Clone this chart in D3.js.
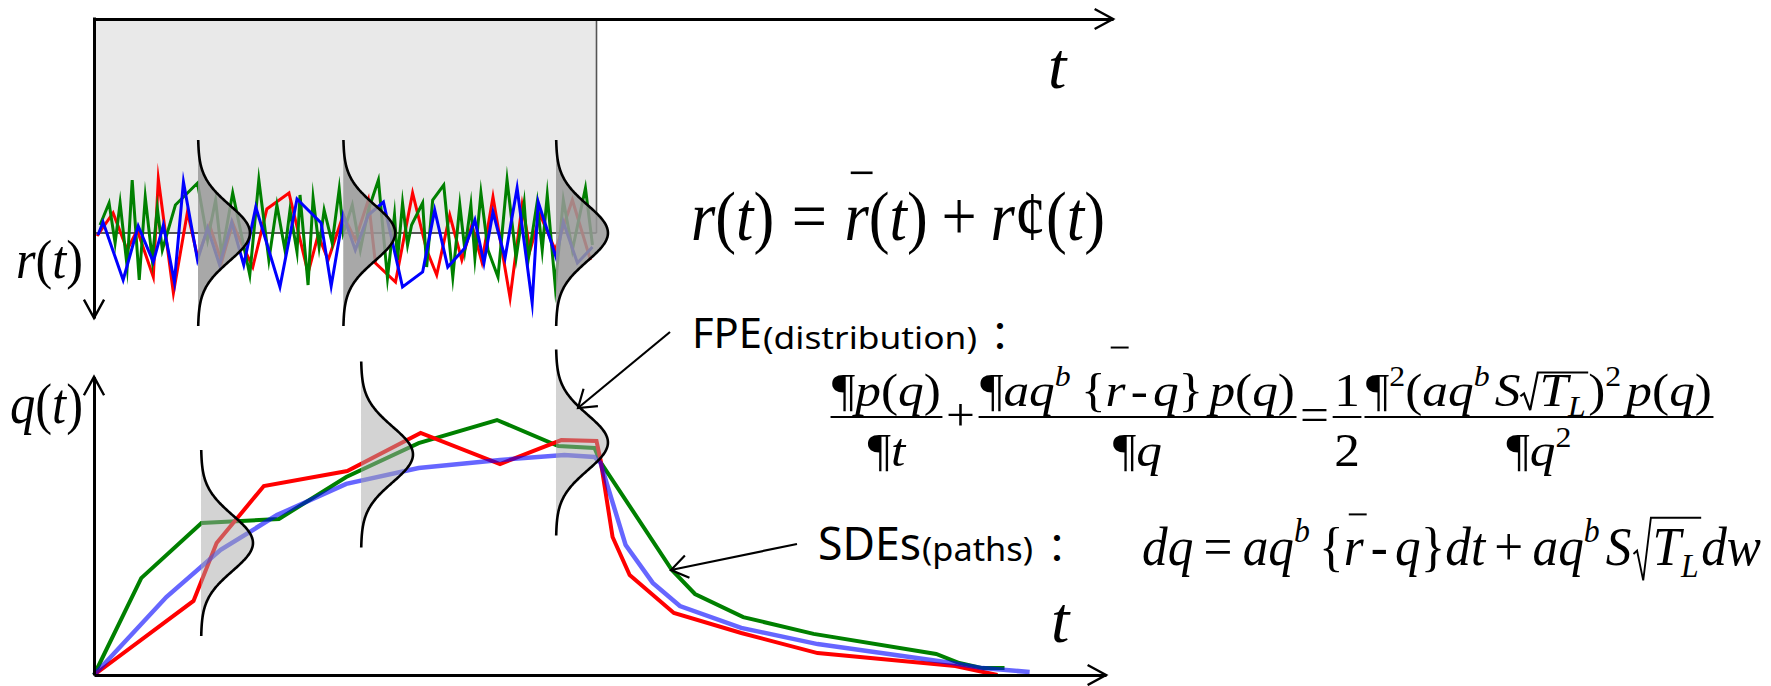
<!DOCTYPE html>
<html>
<head>
<meta charset="utf-8">
<script src="https://cdn.jsdelivr.net/npm/d3@7"></script>
<style>
  html, body { margin: 0; padding: 0; background: #fff; }
  svg { display: block; }
</style>
</head>
<body>
<svg id="fig" width="1771" height="686"></svg>
<script>
// ---------- data ----------
// fluctuating forcing r(t): [t, r'] samples (r grows downward on its axis)
const redNoise = [[0.3,0.3],[1.9,-2.0],[3.3,1.7],[4.3,-0.3],[5.9,4.4],[6.4,-5.4],[7.9,6.0],[9.3,-2.1],[10.3,2.4],[11.5,-0.8],[12.7,2.9],[13.8,-1.0],[14.2,0],[15.8,3.4],[17.2,-2.4],[19.4,-4.0],[21.3,4.0],[22.3,0.2],[23.3,2.7],[24.8,-1.8],[26.0,0.7],[27.3,-3.3],[28.0,3.0],[30.0,4.9],[31.7,-4.0],[33.1,1.7],[34.1,4.2],[35.4,-1.8],[36.6,2.7],[37.6,-0.8],[38.6,2.9],[39.7,-3.6],[41.4,6.5],[42.6,-2.8],[43.4,1.7],[44.4,-1.8],[45.9,1.7],[47.6,-3.3],[49.4,2.7]];
const greenNoise = [[0.6,-0.8],[1.5,-3.0],[2.1,1.0],[2.6,-3.0],[3.3,3.4],[3.8,-5.3],[4.5,4.7],[5.1,-3.6],[5.8,2.7],[6.3,-2.5],[6.8,1.7],[8.1,-2.8],[10.3,-5.0],[11.3,0.7],[12.1,-3.3],[12.7,2.2],[13.8,-4.0],[15.5,4.2],[16.4,-5.3],[17.4,2.7],[18.2,-2.8],[19.0,1.7],[19.5,-2.3],[20.2,1.9],[20.5,-3.8],[21.3,5.2],[21.8,-3.5],[22.4,1.4],[22.9,-2.3],[23.7,1.0],[24.4,-4.4],[24.8,0],[25.7,-2.8],[26.5,1.7],[27.3,-2.3],[28.3,-5.3],[29.2,4.5],[29.9,-1.8],[30.2,2.7],[30.7,-3.0],[31.2,1.2],[31.6,-0.8],[32.7,-3.0],[33.1,3.4],[33.7,-3.3],[34.8,-4.8],[35.7,4.4],[36.4,-2.8],[36.9,1.7],[37.5,-2.8],[37.9,2.5],[38.5,-4.0],[39.2,1.7],[40.2,4.4],[41.1,-5.3],[42.0,2.5],[42.8,-3.0],[43.2,2.7],[44.1,-3.1],[44.6,1.7],[45.1,-3.8],[45.9,5.4],[46.7,-3.3],[47.6,1.7],[48.9,-4.5],[49.6,1.2]];
const blueNoise = [[0.4,0.2],[0.9,-1.1],[2.9,4.7],[4.4,-0.7],[5.9,2.9],[6.9,-0.8],[8.0,4.9],[8.9,-5.1],[10.3,2.7],[11.3,-0.5],[12.5,3.2],[13.7,-1.1],[14.9,3.2],[16.1,-2.6],[18.5,5.4],[20.2,-3.4],[22.6,-1.0],[23.6,5.3],[24.8,-1.8],[26.0,1.7],[27.3,-1.8],[28.8,-3.1],[30.7,5.4],[32.7,3.9],[33.9,-2.3],[35.2,3.4],[36.9,1.5],[37.9,-1.3],[38.8,3.0],[39.7,-2.1],[40.9,2.5],[42.1,-4.5],[43.6,7.0],[44.2,-3.1],[46.0,2.5],[46.7,-1.1],[48.1,3.0],[49.6,1.4]];

// response paths q(t): [t, q]
const greenPath = [[0,0],[4.7,32.3],[10.7,50.7],[18.4,52.0],[25.1,66.0],[32.3,77.3],[40.1,85.0],[46.2,76.3],[49.8,75.7],[50.4,71.0],[57.5,35.0],[59.8,27.0],[64.6,19.3],[71.6,13.7],[83.8,7.0],[86.1,4.0],[88.4,2.3],[90.6,2.3]];
const redPath = [[0,0],[9.9,24.7],[12.2,44.0],[16.9,63.0],[25.2,68.0],[32.5,80.7],[40.4,70.3],[46.5,78.3],[50.0,78.0],[50.4,71.7],[51.6,46.0],[53.3,33.3],[57.7,20.7],[64.4,14.0],[72.0,7.3],[85.7,3.0],[89.9,0]];
const bluePath = [[0,0],[7.2,26.0],[12.6,41.7],[18.2,53.3],[25.1,63.7],[32.3,69.0],[40.4,71.7],[46.8,73.3],[49.8,72.7],[50.4,70.7],[52.9,43.3],[55.6,30.7],[58.3,23.0],[64.4,15.7],[72.0,10.3],[85.4,4.0],[88.4,2.3],[93.1,1.0]];

// distribution snapshots: time of snapshot and centre value
const forcingBellT = [10.35, 24.8, 45.97];
const forcingBellR = [0, 0, 0];
const responseBellT = [10.65, 26.57, 45.97];
const responseBellQ = [44, 73.5, 77.5];

// ---------- scales ----------
const x  = d3.scaleLinear().domain([0, 100]).range([94, 1099]);
const yR = d3.scaleLinear().domain([-10, 10]).range([133, 333]);   // r axis points down
const yQ = d3.scaleLinear().domain([0, 100]).range([675, 375]);

const svg = d3.select('#fig');
const INK = '#000';
const MATH = "'Liberation Serif', 'Times New Roman', serif";
const SANS = "'Noto Sans', 'Open Sans', sans-serif";

function openHead(g, tip, from, len, half, w) {
  const a = Math.atan2(from[1] - tip[1], from[0] - tip[0]);
  const p1 = [tip[0] + len * Math.cos(a + half), tip[1] + len * Math.sin(a + half)];
  const p2 = [tip[0] + len * Math.cos(a - half), tip[1] + len * Math.sin(a - half)];
  g.append('path').attr('d', d3.line()([p1, tip, p2]))
    .attr('fill', 'none').attr('stroke', INK).attr('stroke-width', w)
    .attr('stroke-linejoin', 'miter');
}

// ---------- upper panel: forcing r(t) ----------
const rTop = -21.4, rEnd = 8.5, tTopEnd = 101.4;
const upper = svg.append('g');

upper.append('rect')
  .attr('x', x(0)).attr('y', yR(rTop))
  .attr('width', x(50) - x(0)).attr('height', yR(0) - yR(rTop))
  .attr('fill', '#e9e9e9');
upper.append('line')
  .attr('x1', x(50)).attr('x2', x(50)).attr('y1', yR(rTop)).attr('y2', yR(0))
  .attr('stroke', '#555').attr('stroke-width', 1.6);
upper.append('line')
  .attr('x1', x(0)).attr('x2', x(50)).attr('y1', yR(0)).attr('y2', yR(0))
  .attr('stroke', '#222').attr('stroke-width', 1.6);

const noiseLine = d3.line().x(d => x(d[0])).y(d => yR(d[1]));
[[redNoise, '#ff0000'], [greenNoise, '#008000'], [blueNoise, '#0000ff']].forEach(([d, c]) => {
  upper.append('path').attr('d', noiseLine(d))
    .attr('fill', 'none').attr('stroke', c).attr('stroke-width', 3)
    .attr('stroke-linejoin', 'miter').attr('stroke-miterlimit', 12);
});

// axes (no ticks)
const tTopScale = d3.scaleLinear().domain([0, tTopEnd]).range([x(0), x(tTopEnd)]);
const rAxisScale = d3.scaleLinear().domain([rTop - 0.2, rEnd]).range([yR(rTop - 0.2), yR(rEnd)]);
upper.append('g').attr('transform', `translate(0,${yR(rTop)})`)
  .call(d3.axisBottom(tTopScale).tickValues([]).tickSizeOuter(0));
upper.append('g').attr('transform', `translate(${x(0)},0)`)
  .call(d3.axisLeft(rAxisScale).tickValues([]).tickSizeOuter(0));
openHead(upper, [x(tTopEnd), yR(rTop)], [x(0), yR(rTop)], 21, 0.5, 2.4);
openHead(upper, [x(0), yR(rEnd)], [x(0), yR(0)], 21, 0.5, 2.4);

// ---------- lower panel: response q(t) ----------
const qEnd = 99.4, tBotEnd = 100.7;
const lower = svg.append('g');
const pathLine = d3.line().x(d => x(d[0])).y(d => yQ(d[1]));
lower.append('path').attr('d', pathLine(greenPath))
  .attr('fill', 'none').attr('stroke', '#008000').attr('stroke-width', 4).attr('stroke-linejoin', 'miter');
lower.append('path').attr('d', pathLine(redPath))
  .attr('fill', 'none').attr('stroke', '#ff0000').attr('stroke-width', 4).attr('stroke-linejoin', 'miter');
lower.append('path').attr('d', pathLine(bluePath))
  .attr('fill', 'none').attr('stroke', '#0000ff').attr('stroke-opacity', 0.6).attr('stroke-width', 4.5).attr('stroke-linejoin', 'miter');

const tBotScale = d3.scaleLinear().domain([0, tBotEnd]).range([x(0), x(tBotEnd)]);
const qAxisScale = d3.scaleLinear().domain([0, qEnd]).range([yQ(0), yQ(qEnd)]);
lower.append('g').attr('transform', `translate(0,${yQ(0)})`)
  .call(d3.axisBottom(tBotScale).tickValues([]).tickSizeOuter(0));
lower.append('g').attr('transform', `translate(${x(0)},0)`)
  .call(d3.axisLeft(qAxisScale).tickValues([]).tickSizeOuter(0));
openHead(lower, [x(tBotEnd), yQ(0)], [x(0), yQ(0)], 21, 0.5, 2.4);
openHead(lower, [x(0), yQ(qEnd)], [x(0), yQ(0)], 21, 0.5, 2.4);

svg.selectAll('.domain').attr('stroke', INK).attr('stroke-width', 3);

// ---------- distribution bells ----------
function bell(g, t0, v0, yS, sigma, half, amp, fill, fillOp) {
  const step = half / 80;
  const pts = d3.range(-half, half + step / 2, step)
    .map(dv => [x(t0 + amp * Math.exp(-dv * dv / (2 * sigma * sigma))), yS(v0 + dv)]);
  const area = pts.concat([[x(t0), yS(v0 + half)], [x(t0), yS(v0 - half)]]);
  g.append('path').attr('d', d3.line()(area) + 'Z')
    .attr('fill', fill).attr('fill-opacity', fillOp).attr('stroke', 'none');
  g.append('path').attr('d', d3.line().curve(d3.curveBasis)(pts))
    .attr('fill', 'none').attr('stroke', INK).attr('stroke-width', 2.6);
}
forcingBellT.forEach((t, i) => bell(upper, t, forcingBellR[i], yR, 2.8, 9.3, 5.17, '#9a9a9a', 0.86));
responseBellT.forEach((t, i) => bell(lower, t, responseBellQ[i], yQ, 9.3, 31, 5.17, '#a8a8a8', 0.5));

// ---------- typeset formulas ----------
const I = s => ({ s, i: 1 });
const N = s => ({ s });
const SUP = s => ({ s, i: 1, sz: 0.62, dy: -0.42 });
const SUB = s => ({ s, i: 1, sz: 0.62, dy: 0.22 });
const P = N('¶');

function row(parent, items, o) {
  const g = parent.append('g');
  let cx = 0;
  for (const it of items) {
    if (typeof it === 'number') { cx += it * o.fs; continue; }
    if (it.sqrt) {
      const inner = row(g, it.sqrt, o);
      const tp = -o.sqTop * o.fs, bt = o.sqBot * o.fs, rw = 0.34 * o.fs;
      const w = inner.width + 0.08 * o.fs;
      g.append('path')
        .attr('d', d3.line()([[cx, -0.2 * o.fs], [cx + 0.07 * o.fs, -0.26 * o.fs], [cx + 0.19 * o.fs, bt], [cx + rw, tp], [cx + rw + w, tp]]))
        .attr('fill', 'none').attr('stroke', INK).attr('stroke-width', o.lw);
      inner.g.attr('transform', `translate(${cx + rw + 0.03 * o.fs},0)`);
      cx += rw + w;
      continue;
    }
    if (it.frac) {
      const num = row(g, it.frac[0], o), den = row(g, it.frac[1], o);
      const w = Math.max(num.width, den.width) + 0.12 * o.fs;
      num.g.attr('transform', `translate(${cx + (w - num.width) / 2},${o.numY * o.fs})`);
      den.g.attr('transform', `translate(${cx + (w - den.width) / 2},${o.denY * o.fs})`);
      g.append('line').attr('x1', cx + 0.03 * o.fs).attr('x2', cx + w - 0.03 * o.fs)
        .attr('y1', 0).attr('y2', 0).attr('stroke', INK).attr('stroke-width', o.lw);
      cx += w;
      continue;
    }
    const size = (it.sz || 1) * o.fs;
    const t = g.append('text').attr('x', cx).attr('y', (it.dy || 0) * o.fs)
      .attr('font-size', size).attr('font-style', it.i ? 'italic' : 'normal').text(it.s);
    const w = t.node().getComputedTextLength();
    if (it.bar) {
      g.append('line').attr('x1', cx + 0.1 * size).attr('x2', cx + w + 0.06 * size)
        .attr('y1', -o.barH * o.fs).attr('y2', -o.barH * o.fs)
        .attr('stroke', INK).attr('stroke-width', o.lw);
    }
    cx += w + (it.k || 0) * o.fs;
  }
  return { g, width: cx };
}

function formula(items, o, x0, x1, y0) {
  const holder = svg.append('g').attr('font-family', MATH).attr('fill', INK);
  const r = row(holder, items, o);
  holder.attr('transform', `translate(${x0},${y0}) scale(${(x1 - x0) / r.width},1)`);
}

// axis labels
formula([I('r'), N('('), I('t'), N(')')], { fs: 54, lw: 2 }, 16, 83, 278);
formula([I('q'), N('('), I('t'), N(')')], { fs: 56, lw: 2 }, 10, 83, 423);
svg.append('text').attr('x', 1048).attr('y', 88).attr('font-family', MATH)
  .attr('font-style', 'italic').attr('font-size', 66).text('t');
svg.append('text').attr('x', 1051).attr('y', 642).attr('font-family', MATH)
  .attr('font-style', 'italic').attr('font-size', 66).text('t');

// decomposition of the forcing
formula([I('r'), N('('), I('t'), N(')'), 0.28, N('='), 0.28, { s: 'r', i: 1, bar: 1 }, N('('), I('t'), N(')'),
         0.22, N('+'), 0.22, I('r'), N('¢('), I('t'), N(')')],
        { fs: 70, lw: 2.6, barH: 0.96 }, 691, 1105, 240);

// Fokker-Planck equation
formula([
  { frac: [[P, I('p'), N('('), I('q'), N(')')], [P, I('t')]] },
  0.04, { s: '+', dy: 0.28 }, 0.04,
  { frac: [[P, I('a'), I('q'), SUP('b'), 0.2, N('{'), { s: 'r', i: 1, bar: 1 }, 0.1, N('-'), 0.1, I('q'), N('}'), 0.12,
            I('p'), N('('), I('q'), N(')')], [P, I('q')]] },
  0.04, { s: '=', dy: 0.28 }, 0.04,
  { frac: [[N('1')], [N('2')]] },
  { frac: [[P, { s: '2', sz: 0.62, dy: -0.42 }, N('('), I('a'), I('q'), SUP('b'), 0.1, I('S'),
            { sqrt: [I('T'), SUB('L')] }, N(')'), { s: '2', sz: 0.62, dy: -0.42 }, 0.1, I('p'), N('('), I('q'), N(')')],
           [P, I('q'), { s: '2', sz: 0.62, dy: -0.42 }]] }
], { fs: 46, lw: 2, numY: -0.25, denY: 1.07, barH: 1.26, sqTop: 0.72, sqBot: 0.1 }, 829, 1715, 417);

// sample-path SDE
formula([I('d'), I('q'), 0.2, N('='), 0.2, I('a'), I('q'), SUP('b'), 0.18, N('{'), { s: 'r', i: 1, bar: 1 }, 0.14, N('-'), 0.14,
         I('q'), N('}'), I('d'), I('t'), 0.18, N('+'), 0.18, I('a'), I('q'), SUP('b'), 0.12, I('S'), 0.04,
         { sqrt: [I('T'), SUB('L')] }, I('d'), I('w')],
        { fs: 55, lw: 2, barH: 0.92, sqTop: 0.86, sqBot: 0.28 }, 1142, 1761, 565);

// ---------- captions and pointers ----------
function caption(xb, y, big, bigSize, bigW, small, smallSize, smallW, colonX) {
  const g = svg.append('g').attr('font-family', SANS).attr('fill', INK);
  g.append('text').attr('x', xb).attr('y', y).attr('font-size', bigSize)
    .attr('textLength', bigW).attr('lengthAdjust', 'spacingAndGlyphs').text(big);
  g.append('text').attr('x', xb + bigW + 1).attr('y', y + 1).attr('font-size', smallSize)
    .attr('textLength', smallW).attr('lengthAdjust', 'spacingAndGlyphs').text(small);
  g.append('text').attr('x', colonX).attr('y', y + 3).attr('text-anchor', 'middle')
    .attr('font-family', "'Noto Sans CJK JP', sans-serif").attr('font-size', 40).text('：');
}
caption(692, 348, 'FPE', 42, 70, '(distribution)', 30, 214, 1000);
caption(818, 560, 'SDEs', 45, 103, '(paths)', 32, 111, 1057);

const notes = svg.append('g');
[[[670, 332], [578, 408]], [[797, 544], [671, 570]]].forEach(([a, b]) => {
  notes.append('line').attr('x1', a[0]).attr('y1', a[1]).attr('x2', b[0]).attr('y2', b[1])
    .attr('stroke', INK).attr('stroke-width', 2.2);
  openHead(notes, b, a, 20, 0.6, 2.2);
});
</script>
</body>
</html>
